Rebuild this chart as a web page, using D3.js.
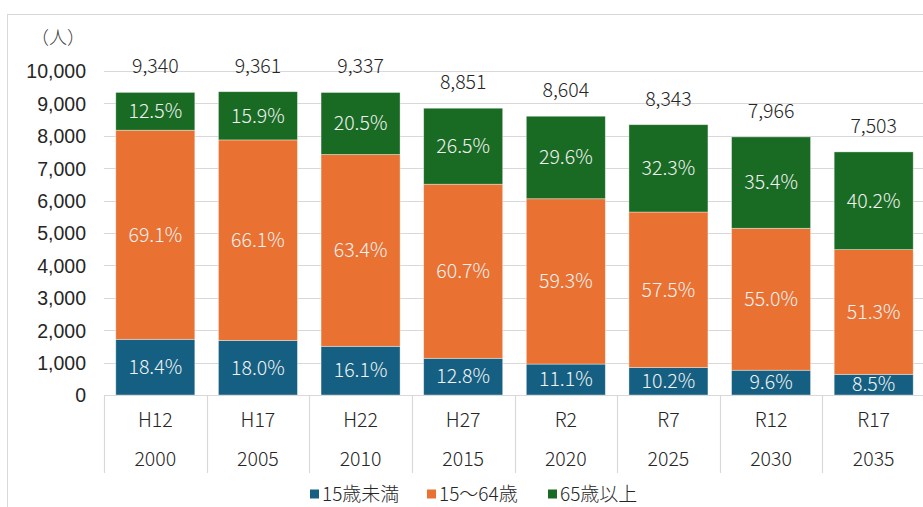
<!DOCTYPE html>
<html>
<head>
<meta charset="utf-8">
<script src="https://cdn.jsdelivr.net/npm/d3@7"></script>
<style>
  body { margin: 0; background: #fff; }
  svg { display: block; font-family: "Noto Sans CJK JP", "Noto Sans", sans-serif; font-weight: 300; }
</style>
</head>
<body>
<svg id="chart" width="923" height="507"></svg>
<script>
// 年度ラベル
var eras = ["H12", "H17", "H22", "H27", "R2", "R7", "R12", "R17"];
var years = ["2000", "2005", "2010", "2015", "2020", "2025", "2030", "2035"];

// 人口（人）
var under15 = [1719, 1685, 1503, 1133, 955, 851, 765, 638];
var working = [6454, 6188, 5920, 5373, 5102, 4797, 4381, 3849];
var elderly = [1167, 1488, 1914, 2345, 2547, 2695, 2820, 3016];
var totals = [9340, 9361, 9337, 8851, 8604, 8343, 7966, 7503];

// 構成比
var pctUnder15 = ["18.4%", "18.0%", "16.1%", "12.8%", "11.1%", "10.2%", "9.6%", "8.5%"];
var pctWorking = ["69.1%", "66.1%", "63.4%", "60.7%", "59.3%", "57.5%", "55.0%", "51.3%"];
var pctElderly = ["12.5%", "15.9%", "20.5%", "26.5%", "29.6%", "32.3%", "35.4%", "40.2%"];

var seriesNames = ["15歳未満", "15〜64歳", "65歳以上"];
var yTicks = [0, 1000, 2000, 3000, 4000, 5000, 6000, 7000, 8000, 9000, 10000];

var colors = ["#156082", "#e97132", "#196b24"];
var fs = 19.5;

var svg = d3.select("#chart");

// chart border
svg.append("rect")
    .attr("x", 7.5).attr("y", 14.5)
    .attr("width", 1000).attr("height", 600)
    .attr("fill", "none")
    .attr("stroke", "#d9d9d9");

var plotL = 104, plotR = 925, plotT = 71, plotB = 395;

var x = d3.scaleBand().domain(years).range([plotL, plotR]).paddingInner(0.23).paddingOuter(0.115);
var xCat = d3.scaleBand().domain(years).range([plotL, plotR]);
var y = d3.scaleLinear().domain([0, 10000]).range([plotB, plotT]);

// gridlines
svg.append("g")
    .selectAll("line")
    .data(yTicks.slice(1))
    .join("line")
    .attr("x1", plotL).attr("x2", plotR)
    .attr("y1", d => Math.round(y(d)) + 0.5)
    .attr("y2", d => Math.round(y(d)) + 0.5)
    .attr("stroke", "#d9d9d9")
    .attr("stroke-width", 1.2);

// y axis
var yAxis = svg.append("g")
    .attr("transform", "translate(" + (plotL - 18) + ",0)")
    .call(d3.axisLeft(y).tickValues(yTicks).tickFormat(d3.format(",")).tickSize(0).tickPadding(0));
yAxis.select(".domain").remove();
yAxis.selectAll("text")
    .attr("font-size", fs)
    .attr("font-family", null)
    .attr("dy", "0.35em")
    .attr("fill", "#262626");

svg.append("text")
    .attr("x", 58).attr("y", 44)
    .attr("text-anchor", "middle")
    .attr("font-size", 18)
    .attr("fill", "#404040")
    .text("（人）");

// stacked data
var rows = years.map((yr, i) => ({
    year: yr,
    values: [under15[i], working[i], elderly[i]],
    pcts: [pctUnder15[i], pctWorking[i], pctElderly[i]],
    total: totals[i]
}));

var stack = d3.stack().keys([0, 1, 2]).value((d, k) => d.values[k]);
var layers = stack(rows);

var layerG = svg.append("g")
    .selectAll("g")
    .data(layers)
    .join("g")
    .attr("fill", (d, i) => colors[i]);

layerG.selectAll("rect")
    .data(d => d)
    .join("rect")
    .attr("x", d => x(d.data.year))
    .attr("width", x.bandwidth())
    .attr("y", d => y(d[1]))
    .attr("height", d => y(d[0]) - y(d[1]))
    .attr("stroke", "#ffffff")
    .attr("stroke-opacity", 0.5)
    .attr("stroke-width", 0.75);

layerG.selectAll("text")
    .data((d, li) => d.map(p => ({ p: p, li: li })))
    .join("text")
    .attr("x", d => x(d.p.data.year) + x.bandwidth() / 2)
    .attr("y", d => (y(d.p[0]) + y(d.p[1])) / 2)
    .attr("dy", "0.35em")
    .attr("text-anchor", "middle")
    .attr("font-size", fs)
    .attr("fill", "#f2f2f2")
    .text(d => d.p.data.pcts[d.li]);

// totals
svg.append("g")
    .selectAll("text")
    .data(rows)
    .join("text")
    .attr("x", d => x(d.year) + x.bandwidth() / 2)
    .attr("y", d => y(d.total) - 19)
    .attr("text-anchor", "middle")
    .attr("font-size", fs)
    .attr("fill", "#262626")
    .text(d => d3.format(",")(d.total));

// category axis
var axisG = svg.append("g");
axisG.append("line")
    .attr("x1", plotL).attr("x2", plotR)
    .attr("y1", plotB + 0.5).attr("y2", plotB + 0.5)
    .attr("stroke", "#d9d9d9").attr("stroke-width", 1.2);

axisG.selectAll("line.sep")
    .data(years.concat(["end"]))
    .join("line")
    .attr("class", "sep")
    .attr("x1", (d, i) => (i < years.length ? Math.round(xCat(d)) : plotR) + 0.5)
    .attr("x2", (d, i) => (i < years.length ? Math.round(xCat(d)) : plotR) + 0.5)
    .attr("y1", plotB).attr("y2", 473)
    .attr("stroke", "#d9d9d9").attr("stroke-width", 1.2);

axisG.selectAll("text.era")
    .data(eras)
    .join("text")
    .attr("class", "era")
    .attr("x", (d, i) => xCat(years[i]) + xCat.bandwidth() / 2)
    .attr("y", 427)
    .attr("text-anchor", "middle")
    .attr("font-size", fs)
    .attr("fill", "#262626")
    .text(d => d);

axisG.selectAll("text.year")
    .data(years)
    .join("text")
    .attr("class", "year")
    .attr("x", d => xCat(d) + xCat.bandwidth() / 2)
    .attr("y", 466)
    .attr("text-anchor", "middle")
    .attr("font-size", fs)
    .attr("fill", "#262626")
    .text(d => d);

// legend
var legendX = [310, 427, 548];
var legend = svg.append("g")
    .selectAll("g")
    .data(seriesNames)
    .join("g")
    .attr("transform", (d, i) => "translate(" + legendX[i] + ",494)");
legend.append("rect")
    .attr("x", 0).attr("y", -4.5)
    .attr("width", 9).attr("height", 9)
    .attr("fill", (d, i) => colors[i]);
legend.append("text")
    .attr("x", 12).attr("y", 0)
    .attr("dy", "0.36em")
    .attr("font-size", 19)
    .attr("fill", "#262626")
    .text(d => d);
</script>
</body>
</html>
